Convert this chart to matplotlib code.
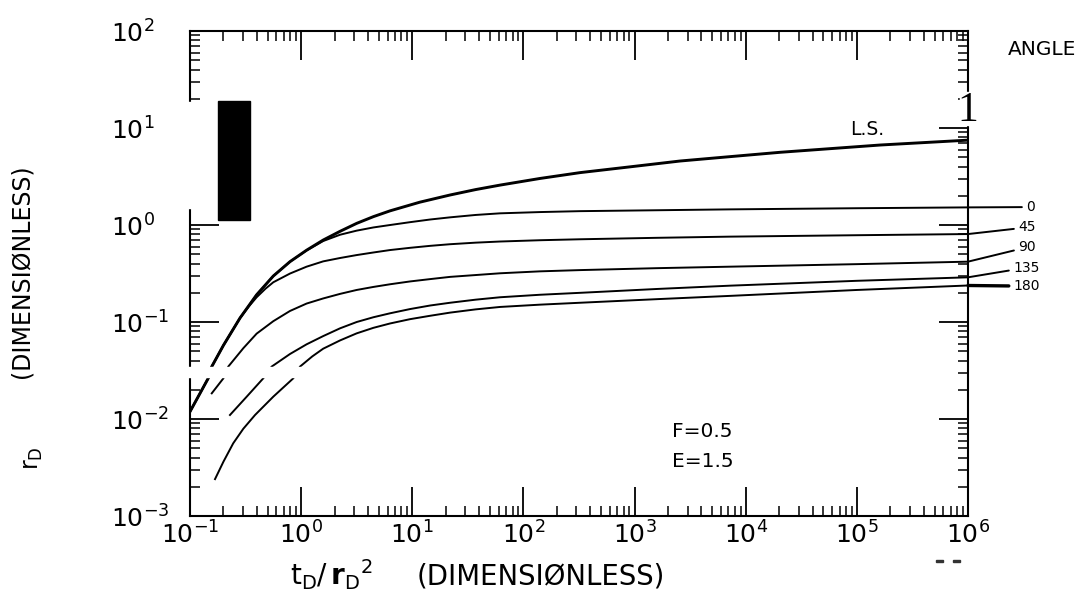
import numpy as np
import matplotlib.pyplot as plt
from matplotlib.patches import Rectangle
from matplotlib.ticker import LogLocator, NullFormatter

plt.rcParams['font.family'] = ['DejaVu Sans']
plt.rcParams['mathtext.fontset'] = 'dejavusans'

# curvas (t_D/r_D^2 , r_D)
t_ls = [0.1, 0.146, 0.157, 0.2, 0.282, 0.398, 0.562, 0.794, 1.12, 1.58, 2.24, 3.16, 4.47, 6.31,
        11.7, 21.9, 37.2, 61.7, 141, 324, 912, 2570, 7240, 2.04e4, 1.62e5, 1e6]
p_ls = [0.0119, 0.0263, 0.0347, 0.0575, 0.110, 0.191, 0.298, 0.419, 0.550, 0.700, 0.861, 1.04, 1.22, 1.40,
        1.72, 2.04, 2.32, 2.58, 3.02, 3.47, 3.98, 4.57, 5.07, 5.62, 6.68, 7.5]

t_0 = [0.1, 0.146, 0.157, 0.2, 0.282, 0.398, 0.562, 0.794, 1.12, 1.58, 2.24, 3.16, 4.47, 6.31,
       9.55, 14.5, 21.9, 37.2, 61.7, 141, 324, 1580, 7240, 1e5, 1e6]
p_0 = [0.0119, 0.0263, 0.0347, 0.0575, 0.110, 0.191, 0.298, 0.419, 0.547, 0.684, 0.794, 0.875, 0.944, 1.0,
       1.07, 1.14, 1.20, 1.27, 1.32, 1.36, 1.39, 1.42, 1.45, 1.49, 1.52]

t_45 = [0.1, 0.146, 0.157, 0.2, 0.282, 0.339, 0.398, 0.479, 0.562, 0.794, 1.12, 1.58, 2.24, 3.16, 4.47,
        6.31, 9.55, 14.5, 21.9, 37.2, 61.7, 141, 324, 1580, 7240, 1e5, 1e6]
p_45 = [0.0119, 0.0263, 0.0347, 0.0575, 0.110, 0.145, 0.180, 0.221, 0.257, 0.316, 0.372, 0.422, 0.457, 0.490, 0.521,
        0.552, 0.582, 0.610, 0.634, 0.658, 0.676, 0.697, 0.713, 0.738, 0.759, 0.785, 0.807]

t_90 = [0.157, 0.2, 0.221, 0.302, 0.398, 0.562, 0.794, 1.12, 1.58, 2.24, 3.16, 4.47, 6.31, 9.55, 14.5,
        21.9, 37.2, 61.7, 141, 324, 1580, 7240, 1e5, 1e6]
p_90 = [0.0184, 0.0263, 0.0347, 0.0537, 0.0759, 0.102, 0.130, 0.155, 0.175, 0.195, 0.214, 0.230, 0.245, 0.262, 0.277,
        0.292, 0.305, 0.318, 0.333, 0.343, 0.359, 0.372, 0.395, 0.419]

t_135 = [0.229, 0.324, 0.457, 0.543, 0.794, 1.12, 1.58, 2.24, 3.16, 4.47, 6.31, 9.55, 14.5, 21.9,
         37.2, 61.7, 141, 324, 1580, 7240, 1e5, 1e6]
p_135 = [0.011, 0.017, 0.0263, 0.0347, 0.0468, 0.0589, 0.0716, 0.0861, 0.1, 0.112, 0.123, 0.136, 0.148, 0.158,
         0.170, 0.180, 0.191, 0.2, 0.219, 0.237, 0.266, 0.289]

t_180 = [0.168, 0.2, 0.245, 0.302, 0.385, 0.562, 0.851, 0.977, 1.26, 1.58, 2.24, 3.16, 4.47, 6.31, 9.55,
         14.5, 21.9, 37.2, 61.7, 141, 324, 1580, 7240, 1e5, 1e6]
p_180 = [0.0024, 0.00363, 0.00562, 0.00794, 0.011, 0.017, 0.0263, 0.0347, 0.0442, 0.0531, 0.0646, 0.0764, 0.0871, 0.0966, 0.107,
         0.116, 0.125, 0.135, 0.143, 0.151, 0.158, 0.172, 0.186, 0.214, 0.238]

angulos = ['0', '45', '90', '135', '180']
xticks = [1e-1, 1e0, 1e1, 1e2, 1e3, 1e4, 1e5, 1e6]
yticks = [1e-3, 1e-2, 1e-1, 1e0, 1e1, 1e2]

fig = plt.figure(figsize=(10.8, 6.06), dpi=100)
ax = fig.add_axes([0.1759, 0.1485, 0.7204, 0.8003])
ax.set_xscale('log')
ax.set_yscale('log')
ax.set_xlim(1e-1, 1e6)
ax.set_ylim(1e-3, 1e2)

# L.S. mas gruesa, el resto finas
ax.plot(t_ls, p_ls, color='k', lw=2.1, solid_joinstyle='round')
curvas = [(t_0, p_0), (t_45, p_45), (t_90, p_90), (t_135, p_135), (t_180, p_180)]
for t, p in curvas:
    ax.plot(t, p, color='k', lw=1.4, solid_joinstyle='round')

# ejes y ticks hacia adentro en los cuatro lados
ax.set_xticks(xticks)
ax.set_yticks(yticks)
for eje in (ax.xaxis, ax.yaxis):
    eje.set_minor_locator(LogLocator(base=10, subs=np.arange(2, 10), numticks=100))
    eje.set_minor_formatter(NullFormatter())
ax.tick_params(which='major', direction='in', length=21, width=1.3,
               top=True, right=True, labelsize=18)
ax.tick_params(which='minor', direction='in', length=7, width=1.1,
               top=True, right=True)
ax.tick_params(axis='x', which='major', pad=4)
ax.tick_params(axis='y', which='major', pad=57)
for lab in ax.get_yticklabels():
    lab.set_horizontalalignment('left')
for s in ax.spines.values():
    s.set_linewidth(1.5)

# huecos y mancha del original escaneado
ax.add_patch(Rectangle((-0.012, 0.635), 0.048, 0.219, transform=ax.transAxes,
                       color='white', clip_on=False, zorder=5))
ax.add_patch(Rectangle((0.036, 0.610), 0.041, 0.246, transform=ax.transAxes,
                       color='black', clip_on=False, zorder=6))
ax.add_patch(Rectangle((-0.012, 0.287), 0.166, 0.020, transform=ax.transAxes,
                       color='white', clip_on=False, zorder=5))
ax.add_patch(Rectangle((0.99, 0.806), 0.02, 0.068, transform=ax.transAxes,
                       color='white', clip_on=False, zorder=5))
ax.text(1.0, 0.835, '1', transform=ax.transAxes, ha='center', va='center',
        fontsize=30, family='Liberation Serif', zorder=7)
# dos marquitas bajo el 10^6
for x0 in (936/1080, 953/1080):
    fig.patches.append(Rectangle((x0, 1 - 562/606), 7/1080, 2/606,
                                 transform=fig.transFigure, color='#333333'))

# textos
ax.text(0.848, 0.786, 'L.S.', transform=ax.transAxes, fontsize=13.5, va='baseline')
ax.text(0.62, 0.163, 'F=0.5', transform=ax.transAxes, fontsize=14.5, va='baseline')
ax.text(0.62, 0.101, 'E=1.5', transform=ax.transAxes, fontsize=14.5, va='baseline')
fig.text(0.9333, 0.909, 'ANGLE', fontsize=14.5, va='baseline')

# etiquetas de angulo con su linea guia
pos_lab = [(1.0746, 0.637), (1.0643, 0.595), (1.0643, 0.554), (1.0578, 0.512), (1.0578, 0.474)]
grosor = [1.4, 1.4, 1.4, 1.4, 2.4]
for nombre, (t, p), xy_txt, lw in zip(angulos, curvas, pos_lab, grosor):
    ax.annotate(nombre, xy=(t[-1], p[-1]), xycoords='data', xytext=xy_txt,
                textcoords='axes fraction', ha='left', va='center', fontsize=10,
                annotation_clip=False,
                arrowprops=dict(arrowstyle='-', lw=lw, color='k', shrinkA=1, shrinkB=0))

# titulos de los ejes
fig.text(290/1080, 1 - 585/606, r'$\mathrm{t}_\mathrm{D}/\,\mathbf{r}_\mathrm{D}{}^{2}$',
         fontsize=20, va='baseline')
fig.text(417/1080, 1 - 585/606, '(DIMENSIØNLESS)', fontsize=19.8, va='baseline')
fig.text(22/1080, 1 - 271.5/606, '(DIMENSIØNLESS)', fontsize=17, rotation=90,
         ha='center', va='center')
fig.text(33/1080, 1 - 458/606, r'$\mathrm{r}_\mathrm{D}$', fontsize=17, rotation=90,
         ha='center', va='center')

plt.savefig('out.png', dpi=100)
